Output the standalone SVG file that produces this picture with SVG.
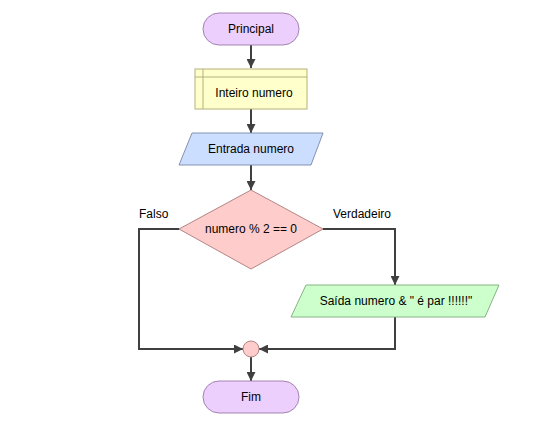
<svg xmlns="http://www.w3.org/2000/svg" width="560" height="445" viewBox="0 0 560 445">
<style>
text{font-family:"Liberation Sans",Arial,sans-serif;font-size:12px;fill:#000;text-anchor:middle;dominant-baseline:central}
.lbl{text-anchor:start}
.term{fill:#eccffc;stroke:#a383b3;stroke-width:1}
.decl{fill:#ffffcc;stroke:#b5b07a;stroke-width:1}
.inp{fill:#ccdeff;stroke:#8391b3;stroke-width:1}
.dec{fill:#ffcccc;stroke:#b38585;stroke-width:1}
.out{fill:#ccffcc;stroke:#85b385;stroke-width:1}
.conn path{fill:none;stroke:#404040;stroke-width:2;marker-end:url(#ah)}
</style>
<defs>
<marker id="ah" viewBox="0 0 10 10" refX="10" refY="5" markerWidth="9" markerHeight="9" markerUnits="userSpaceOnUse" orient="auto">
<path d="M0,0 L10,5 L0,10 z" fill="#404040"/>
</marker>
</defs>
<rect width="560" height="445" fill="#fff"/>
<g class="conn">
<path d="M251,45 V68"/>
<path d="M251,109 V133"/>
<path d="M251,165 V190"/>
<path d="M179,229 H139 V349 H243"/>
<path d="M323,229 H395 V285"/>
<path d="M395,317 V349 H259"/>
<path d="M251,357 V381"/>
</g>
<g id="principal">
<rect class="term" x="203" y="13" width="96" height="32" rx="16"/>
<text x="251" y="29">Principal</text>
</g>
<g id="declare">
<rect class="decl" x="195" y="69" width="112" height="40"/>
<path d="M203,69 V109 M195,77 H307" fill="none" stroke="#b5b07a"/>
<text x="254" y="93">Inteiro numero</text>
</g>
<g id="input">
<polygon class="inp" points="192,133 323,133 311,165 179,165"/>
<text x="251" y="149">Entrada numero</text>
</g>
<g id="decision">
<polygon class="dec" points="251,190 323,229 251,269 179,229"/>
<text x="251" y="229">numero % 2 == 0</text>
<text x="139" y="214" class="lbl">Falso</text>
<text x="333" y="214" class="lbl">Verdadeiro</text>
</g>
<g id="output">
<polygon class="out" points="306,285 499,285 485,317 291,317"/>
<text x="396" y="301">Saída numero &amp; " é par !!!!!!"</text>
</g>
<g id="join">
<circle class="dec" cx="251" cy="349" r="8"/>
</g>
<g id="fim">
<rect class="term" x="203" y="381" width="96" height="32" rx="16"/>
<text x="251" y="397">Fim</text>
</g>
</svg>
